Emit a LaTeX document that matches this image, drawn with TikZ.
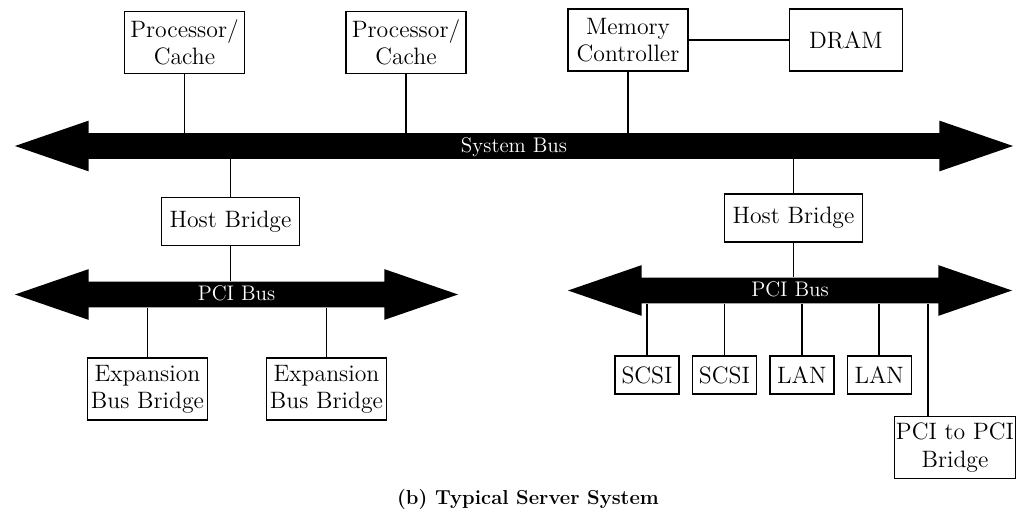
\documentclass[tikz,border=0pt]{standalone}
\usepackage{tikz}
\usetikzlibrary{positioning, shapes.arrows}

\begin{document}
\begin{tikzpicture}[
    x = 0.2mm, y = -0.2mm, % one unit per pixel, y runs down
    node distance = 2.4mm, % gap between the cards
    unit/.style={rectangle, draw, line width=0.8pt, align=center, inner sep=1pt,
      minimum width=24mm, minimum height=12.4mm},
    bridge/.style={unit, minimum width=27.6mm, minimum height=9.6mm},
    card/.style={unit, minimum width=12.8mm, minimum height=7.6mm},
    bus/.style={double arrow, fill=black, text=white,
      double arrow head extend=2.5mm, double arrow tip angle=38,
      inner xsep=0pt, inner ysep=1.6pt, text height=9pt, text depth=2pt,
      font=\fontsize{12}{12}\selectfont},
    link/.style={draw, line width=1pt}
  ]

  \tikzstyle{every node}=[font=\fontsize{13.5}{15.5}\selectfont]

  \useasboundingbox (0,0) rectangle (1017,512);

  % buses
  \node[bus, minimum height=199.6mm] (sysbus) at (514,146) {System Bus};
  \node[bus, minimum height=88.6mm] (pcibus1) at (236.5,294.5) {PCI Bus};
  \node[bus, minimum height=88.8mm] (pcibus2) at (790,290.5) {PCI Bus};

  % processors and memory
  \node[unit] (cpu1) at (184.5,42.5) {Processor/\\Cache};
  \node[unit] (cpu2) at (406,42.5) {Processor/\\Cache};
  \node[unit] (memctl) at (628,40) {Memory\\Controller};
  \node[unit, minimum width=22.6mm] (dram) [right = 20mm of memctl] {DRAM};

  % bridges
  \node[bridge] (host1) at (230.5,221.5) {Host Bridge};
  \node[bridge] (host2) at (793.5,218) {Host Bridge};
  \node[unit] (exp1) at (147.5,389) {Expansion\\Bus Bridge};
  \node[unit] (exp2) at (326.5,389) {Expansion\\Bus Bridge};
  \node[unit] (p2p) at (955,447.5) {PCI to PCI\\Bridge};

  % adapter cards
  \node[card] (scsi1) at (647,375) {SCSI};
  \node[card] (scsi2) [right = of scsi1] {SCSI};
  \node[card] (lan1) [right = of scsi2] {LAN};
  \node[card] (lan2) [right = of lan1] {LAN};

  \coordinate (p2ptap) at ([xshift=-5.4mm]p2p.north);

  \path[link] (cpu1) edge (cpu1 |- sysbus.north);
  \path[link] (cpu2) edge (cpu2 |- sysbus.north);
  \path[link] (memctl) edge (memctl |- sysbus.north);
  \path[link] (memctl) edge (dram);
  \path[link] (host1) edge (host1 |- sysbus.south);
  \path[link] (host2) edge (host2 |- sysbus.south);
  \path[link] (host1) edge (host1 |- pcibus1.north);
  \path[link] (host2) edge (host2 |- pcibus2.north);
  \path[link] (exp1) edge (exp1 |- pcibus1.south);
  \path[link] (exp2) edge (exp2 |- pcibus1.south);
  \path[link] (scsi1) edge (scsi1 |- pcibus2.south);
  \path[link] (scsi2) edge (scsi2 |- pcibus2.south);
  \path[link] (lan1) edge (lan1 |- pcibus2.south);
  \path[link] (lan2) edge (lan2 |- pcibus2.south);
  \path[link] (p2ptap) edge (p2ptap |- pcibus2.south);

  \node[font=\bfseries\fontsize{11.5}{14}\selectfont] (caption) at (528,499)
    {(b) Typical Server System};
\end{tikzpicture}
\end{document}
